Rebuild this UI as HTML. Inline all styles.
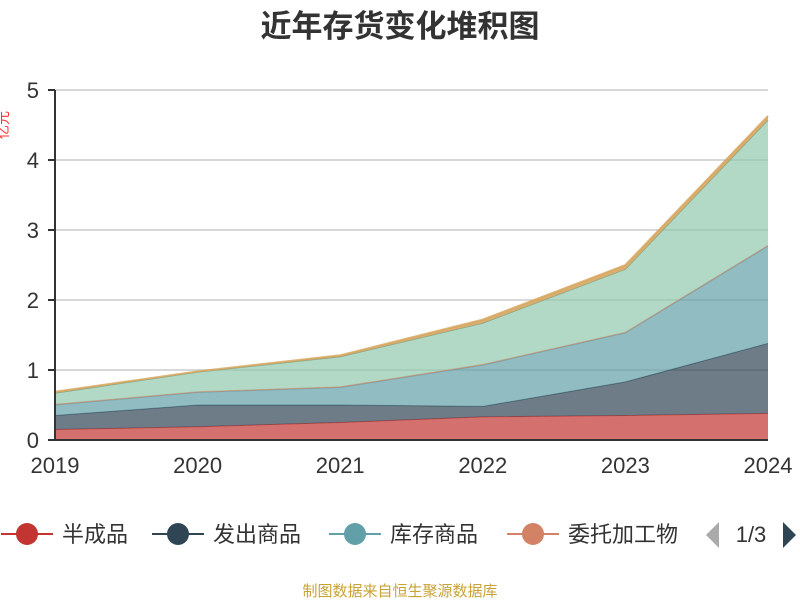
<!DOCTYPE html>
<html><head><meta charset="utf-8"><style>
body{margin:0;background:#fff;font-family:"Liberation Sans","Noto Sans CJK SC",sans-serif}
svg text{font-family:"Liberation Sans","Noto Sans CJK SC",sans-serif}
</style></head><body>
<svg id="c" width="800" height="600">
<text x="400" y="37" text-anchor="middle" font-size="31" font-weight="bold" fill="#333">近年存货变化堆积图</text>
<text x="-125" y="8" transform="rotate(-90)" text-anchor="middle" font-size="14" fill="#ff3333">亿元</text>
<g id="grid"></g><g id="areas"></g><g id="axes"></g>
<text x="400" y="596" text-anchor="middle" font-size="15" fill="#c9a236">制图数据来自恒生聚源数据库</text>
</svg>
<script>
const years=["2019","2020","2021","2022","2023","2024"];
const names=["半成品","发出商品","库存商品","委托加工物资","原材料","在产品","其他"];
const colors=["#c23531","#2f4554","#61a0a8","#d48265","#91c7ae","#749f83","#d6a55e"];
const s1=[0.15,0.19,0.25,0.33,0.35,0.38];
const s2=[0.20,0.31,0.25,0.15,0.48,1.00];
const s3=[0.15,0.18,0.25,0.59,0.70,1.39];
const s4=[0.01,0.01,0.01,0.01,0.01,0.01];
const s5=[0.16,0.28,0.43,0.59,0.90,1.79];
const s6=[0,0,0,0,0,0];
const s7=[0.02,0.01,0.02,0.05,0.06,0.06];
const yTicks=[0,1,2,3,4,5];
const NS="http://www.w3.org/2000/svg";
const x0=55,x1=768,yb=440,yt=90,ymax=5;
const X=i=>x0+(x1-x0)*i/(years.length-1);
const Y=v=>yb-(yb-yt)*v/ymax;
function mk(t,a,p){const e=document.createElementNS(NS,t);for(const k in a)e.setAttribute(k,a[k]);p.appendChild(e);return e;}
const grid=document.getElementById('grid'),axes=document.getElementById('axes'),areas=document.getElementById('areas');
yTicks.forEach(v=>{
 if(v>0){const l=mk('line',{x1:x0,x2:x1,y1:Y(v),y2:Y(v),stroke:'#ccc','stroke-width':1.5},grid);
 
 }
 const tk=mk('line',{x1:x0-7,x2:x0,y1:Y(v),y2:Y(v),stroke:'#333','stroke-width':2},axes);
 
 
 const t=mk('text',{x:x0-16,y:Y(v)+8,'text-anchor':'end','font-size':22,fill:'#333'},axes);t.textContent=v;
 
 
});
const series=[s1,s2,s3,s4,s5,s6,s7];
let base=years.map(()=>0);
series.forEach((s,k)=>{
 const top=base.map((b,i)=>b+s[i]);
 let d='M'+top.map((v,i)=>X(i)+','+Y(v)).join('L');
 for(let i=years.length-1;i>=0;i--)d+='L'+X(i)+','+Y(base[i]);
 d+='Z';
 const p=mk('path',{d:d,fill:colors[k],'fill-opacity':k==6?0.9:0.7,stroke:'none'},areas);
 
 
 const l=mk('polyline',{points:top.map((v,i)=>X(i)+','+Y(v)).join(' '),fill:'none',stroke:colors[k],'stroke-width':k==6?2:1,'stroke-opacity':0.8},areas);
 
 
 base=top;
});
const ya=mk('line',{x1:x0,x2:x0,y1:yt,y2:yb,stroke:'#333','stroke-width':2},axes);


const xa=mk('line',{x1:x0,x2:x1,y1:yb,y2:yb,stroke:'#333','stroke-width':2},axes);


years.forEach((y,i)=>{
 const t=mk('text',{x:X(i),y:473,'text-anchor':'middle','font-size':22,fill:'#333'},axes);t.textContent=y;
 
 
});
const svg=document.getElementById('c');
const lx=[-4,147,324,502];
const lc=["#c23531","#2f4554","#61a0a8","#d48265"];
[0,1,2,3].forEach(k=>{
 const g=mk('g',{},svg);
 
 
 mk('line',{x1:lx[k]+5,x2:lx[k]+57,y1:534,y2:534,stroke:lc[k],'stroke-width':2},g);
 mk('circle',{cx:lx[k]+31,cy:534,r:11,fill:lc[k]},g);
 const t=mk('text',{x:lx[k]+66,y:542,'font-size':22,fill:'#333'},g);t.textContent=k==3?'委托加工物':names[k];
});
const pl=mk('path',{d:'M719,522L706,535L719,548Z',fill:'#aaa'},svg);


const pt=mk('text',{x:751,y:542,'text-anchor':'middle','font-size':22,fill:'#333'},svg);pt.textContent='1/3';


const pr=mk('path',{d:'M783,522L796,535L783,548Z',fill:'#2f4554'},svg);


</script>
</body></html>
